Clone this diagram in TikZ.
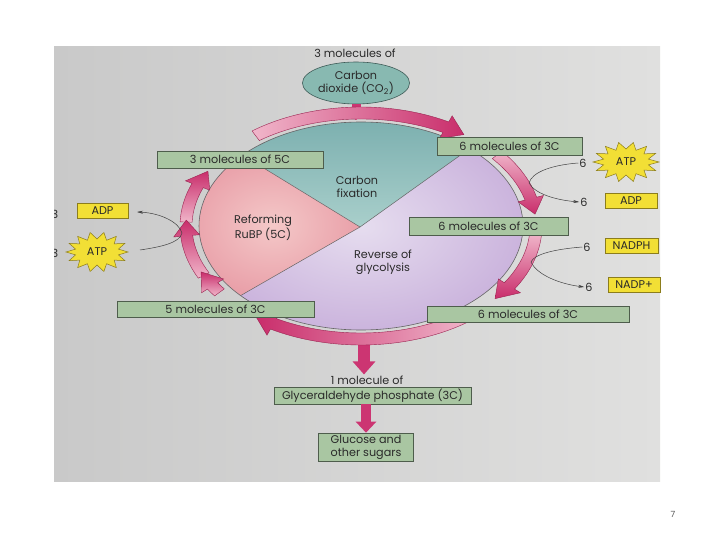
\documentclass[tikz,border=0pt]{standalone}
\usepackage{fontspec}
\setmainfont{Poppins}
\usetikzlibrary{arrows.meta,shapes.geometric}
\definecolor{photoL}{HTML}{C9C9C9}
\definecolor{photoR}{HTML}{E0E0DF}
\definecolor{txt}{HTML}{2A2A2A}
\definecolor{gfill}{HTML}{A9C6A2}
\definecolor{gline}{HTML}{4E5D4C}
\definecolor{yfill}{HTML}{F2DF35}
\definecolor{yline}{HTML}{8C7D1C}
\definecolor{tealD}{HTML}{78ADAD}
\definecolor{tealL}{HTML}{A9CFCB}
\definecolor{pinkO}{HTML}{E9A0A9}
\definecolor{pinkI}{HTML}{F4C8C8}
\definecolor{purO}{HTML}{CBB4DD}
\definecolor{purI}{HTML}{E6DDEF}
\definecolor{bandL}{HTML}{F0B6CA}
\definecolor{bandD}{HTML}{C92D6B}
\definecolor{bandE}{HTML}{9A2350}
\definecolor{fatpink}{HTML}{CC3572}
\definecolor{co2fill}{HTML}{88B9B1}
\definecolor{co2line}{HTML}{3E5B57}
\definecolor{pgnum}{HTML}{555555}

\newcommand\bandarr[4]{%
  \pgfmathsetmacro\bTs{-1*(#1)}%
  \pgfmathsetmacro\bTe{-1*(#2)}%
  \pgfmathsetmacro\bTh{-1*(#2)-(#3)}%
  \shadedraw[bandsty,#4]
    ([shift={(\bTs:181 and 119)}]C)
    arc[start angle=\bTs, end angle=\bTh, x radius=181, y radius=119]
    -- ([shift={(\bTh:188 and 126)}]C)
    -- ([shift={(\bTe:175 and 113)}]C)
    -- ([shift={(\bTh:162 and 100)}]C)
    -- ([shift={(\bTh:169 and 107)}]C)
    arc[start angle=\bTh, end angle=\bTs, x radius=169, y radius=107]
    -- cycle;}

\newcommand\starburst[6]{%
  \filldraw[starsty] plot[samples at={0,...,27}, variable=\k]
    ({#1+((#3+#4)/2+(#3-#4)/2*cos(180*\k))*cos(360*\k/28)},
     {#2+((#5+#6)/2+(#5-#6)/2*cos(180*\k))*sin(360*\k/28)}) -- cycle;}

\begin{document}
\begin{tikzpicture}[x=1pt,y=-1pt,
  every node/.style={font=\fontsize{11.2}{13}\selectfont, text=txt},
  gbox/.style={draw=gline, line width=0.6pt, fill=gfill, inner sep=0pt},
  ybox/.style={draw=yline, line width=0.6pt, fill=yfill, inner sep=0pt, minimum height=15pt},
  lbl/.style={inner sep=1pt},
  bandsty/.style={draw=bandE, line width=0.4pt},
  starsty/.style={fill=yfill, draw=yline, line width=0.5pt},
  fatarrow/.style={draw=fatpink},
  conn/.style={draw=black!75, line width=0.5pt},
  pieline/.style={draw=black!60, line width=0.6pt}]
\useasboundingbox (0,0) rectangle (720,540);
\fill[white] (0,0) rectangle (720,540);
\shade[left color=photoL, right color=photoR] (54,47) rectangle (660,481);

\coordinate (C) at (361,226);
\coordinate (J) at (360,227);

% pie
\shade[inner color=purI, outer color=purO] (C) ellipse[x radius=162, y radius=104];
\shade[top color=tealD, bottom color=tealL]
  (J) -- ([shift={(-48:162 and 104)}]C)
  arc[start angle=-48, end angle=-137, x radius=162, y radius=104] -- cycle;
\shade[inner color=pinkI, outer color=pinkO]
  (J) -- ([shift={(-137:162 and 104)}]C)
  arc[start angle=-137, end angle=-222, x radius=162, y radius=104] -- cycle;
\draw[pieline, line width=0.5pt] (J) -- ([shift={(-48:162 and 104)}]C);
\draw[pieline, line width=0.5pt] (J) -- ([shift={(-137:162 and 104)}]C);
\draw[pieline, line width=0.5pt] (J) -- ([shift={(-222:162 and 104)}]C);
\draw[pieline] (C) ellipse[x radius=162, y radius=104];

\node[lbl, align=center] (fix) at (357,187) {Carbon\\fixation};
\node[lbl, align=center] (ref) at (263,228) {Reforming\\RuBP (5C)};
\node[lbl, align=center] (rev) at (383,262) {Reverse of\\glycolysis};

% top: CO2
\node[lbl] (co2top) at (355,53) {3 molecules of};
\node[draw=co2line, line width=0.6pt, fill=co2fill, ellipse, minimum width=100pt, minimum height=42pt,
      inner sep=0pt, align=center] (co2) at (356,83) {Carbon\\dioxide (CO\textsubscript{2})};
\coordinate (co2tip) at (356,120);
\draw[fatarrow, line width=9pt, -{Triangle[width=22pt,length=10pt]}] (co2.south) -- (co2tip);

% fat arrow out of the cycle
\coordinate (a1s) at (364,336);
\node[lbl] (mol1) at (367,380) {1 molecule of};
\draw[fatarrow, line width=12pt, -{Triangle[width=22pt,length=13pt]}] (a1s) -- (mol1.north -| a1s);

% cycle bands
\bandarr{127}{54}{7}{left color=bandL, right color=bandD}
\bandarr{39}{6}{8}{top color=bandL, bottom color=bandD}
\bandarr{-4}{-40}{8}{top color=bandL, bottom color=bandD}
\bandarr{-52}{-127}{7}{left color=bandD, right color=bandL}
\bandarr{178}{151}{8}{top color=bandD, bottom color=bandL}
\bandarr{206}{177}{8}{top color=bandD, bottom color=bandL}
\bandarr{216}{204}{8}{top color=bandD, bottom color=bandL}

% green boxes
\node[gbox, minimum width=166pt, minimum height=17pt] (b5c) at (240,159.5) {3 molecules of 5C};
\node[gbox, minimum width=145pt, minimum height=18pt] (b3ctop) at (509.5,146) {6 molecules of 3C};
\node[gbox, minimum width=159pt, minimum height=18pt] (b3cmid) at (488.5,226) {6 molecules of 3C};
\node[gbox, minimum width=202pt, minimum height=16pt] (b3cbot) at (528,314) {6 molecules of 3C};
\node[gbox, minimum width=197pt, minimum height=16pt] (b53c) at (215.5,309) {5 molecules of 3C};
\node[gbox, minimum width=197pt, minimum height=17pt] (g3p) at (372.5,395.5) {Glyceraldehyde phosphate (3C)};
\node[gbox, minimum width=95pt, minimum height=28pt, align=center] (gluc) at (366,447) {Glucose and\\other sugars};
\draw[fatarrow, line width=10pt, -{Triangle[width=20pt,length=11pt]}] (g3p.south -| gluc.north) -- (gluc.north);

% right side energy carriers
\starburst{626}{162}{33}{23}{20}{13}
\node[lbl] (atpR) at (626,162) {ATP};
\node[ybox, minimum width=52pt] (adpR) at (631,201) {ADP};
\node[ybox, minimum width=53pt] (nadph) at (631.5,245.5) {NADPH};
\node[ybox, minimum width=52pt] (nadpp) at (634,285) {NADP+};
\node[lbl] (n6a) at (583,163) {6};
\node[lbl] (n6b) at (584,202) {6};
\node[lbl] (n6c) at (587,247) {6};
\node[lbl] (n6d) at (589,287) {6};
\coordinate (t1) at (529,183);
\coordinate (t2) at (531,262);
\draw[conn] (n6a.west) .. controls (552,165) and (532,172) .. (t1);
\draw[conn, -{Stealth[length=6pt,width=3pt]}] (t1) .. controls (535,194) and (556,200) .. (n6b.west);
\draw[conn] (n6c.west) .. controls (556,249) and (534,254) .. (t2);
\draw[conn, -{Stealth[length=6pt,width=3pt]}] (t2) .. controls (537,275) and (560,284) .. (n6d.west);

% left side energy carriers
\node[ybox, minimum width=51pt] (adpL) at (102.5,211) {ADP};
\starburst{97}{252}{31}{22}{20}{13}
\node[lbl] (atpL) at (97,252) {ATP};
\coordinate (t3) at (182,233);
\coordinate (l3s) at (140,250);
\coordinate (l3e) at (137,212);
\draw[conn] (l3s) .. controls (160,247) and (180,243) .. (t3);
\draw[conn, -{Stealth[length=6pt,width=3pt]}] (t3) .. controls (179,222) and (160,213) .. (l3e);

\begin{scope}
\clip (54,47) rectangle (660,481);
\node[lbl] (cut1) at (55,214) {3};
\node[lbl] (cut2) at (55,253) {3};
\end{scope}

\node[lbl, text=pgnum, font=\fontsize{8.5}{10}\selectfont] (pg) at (673,514) {7};
\end{tikzpicture}
\end{document}
